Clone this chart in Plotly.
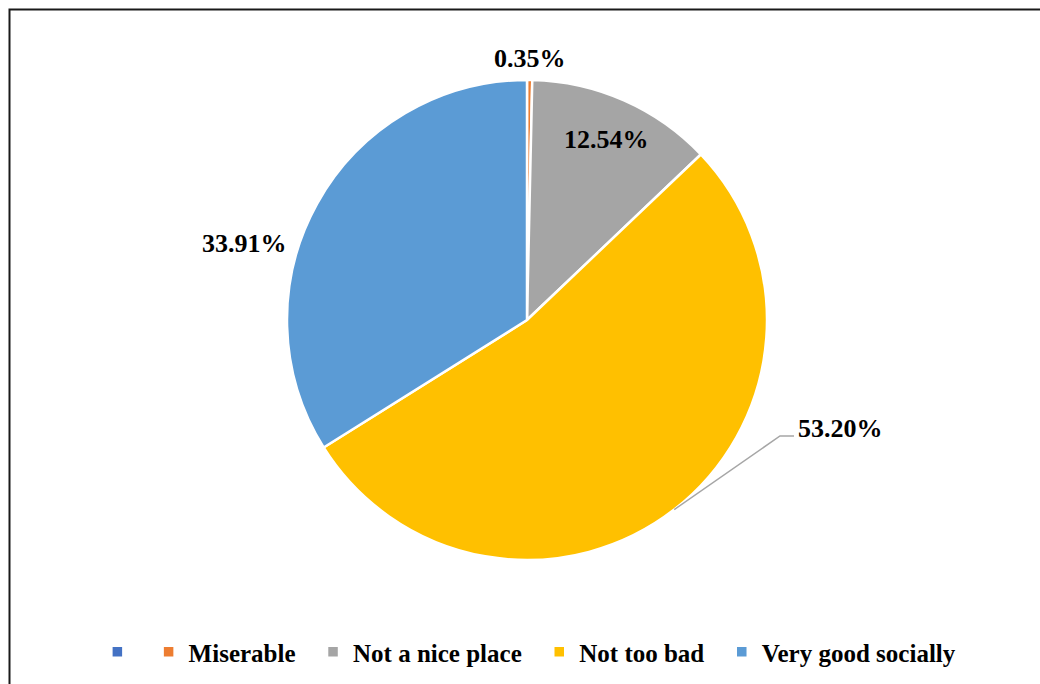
import math
import plotly.graph_objects as go

# Survey responses: share of respondents per category (percent)
categories = [" ", "Miserable", "Not a nice place", "Not too bad", "Very good socially"]
shares = [0.0, 0.35, 12.54, 53.20, 33.91]
colors = ["#4472C4", "#ED7D31", "#A5A5A5", "#FFC000", "#5B9BD5"]

W, H = 1040, 684
CX, CY, R = 527, 320, 240   # pie centre and radius in pixels
FONT = "Liberation Serif"


def px(x):
    return x / W


def py(y):
    return 1 - y / H


def mid_angle(i):
    """Clockwise angle from 12 o'clock (radians) to the middle of slice i."""
    total = sum(shares)
    start = sum(shares[:i])
    return 2 * math.pi * (start + shares[i] / 2) / total


def legend_label(i, name):
    # bold names, with a little extra breathing room between legend entries
    pad = "&nbsp;&nbsp;" if 0 < i < len(categories) - 1 else ""
    return f"<b>{name}</b>{pad}"


fig = go.Figure(
    go.Pie(
        labels=[legend_label(i, c) for i, c in enumerate(categories)],
        values=shares,
        sort=False,
        direction="clockwise",
        rotation=0,
        marker=dict(colors=colors, line=dict(color="white", width=2.5)),
        textinfo="none",
        hoverinfo="label+percent",
        domain=dict(x=[px(CX - R), px(CX + R)], y=[py(CY + R), py(CY - R)]),
    )
)

label_font = dict(family=FONT, size=26, color="black")
annotations = []

# Miserable: just outside the rim, above its sliver
a = mid_angle(1)
annotations.append(dict(x=px(CX + (R + 22) * math.sin(a)), y=py(CY - (R + 22) * math.cos(a)),
                        text=f"<b>{shares[1]:.2f}%</b>"))
# Not a nice place: inside the slice
a = mid_angle(2)
annotations.append(dict(x=px(CX + 0.82 * R * math.sin(a)), y=py(CY - 0.82 * R * math.cos(a)),
                        text=f"<b>{shares[2]:.2f}%</b>"))
# Very good socially: to the left of the pie
annotations.append(dict(x=px(289), y=py(244), xanchor="right", text=f"<b>{shares[4]:.2f}%</b>"))
# Not too bad: callout with leader line
annotations.append(dict(x=px(796), y=py(428), xanchor="left", text=f"<b>{shares[3]:.2f}%</b>"))

for ann in annotations:
    ann.update(xref="paper", yref="paper", showarrow=False, font=label_font)
    ann.setdefault("xanchor", "center")
    ann.setdefault("yanchor", "middle")

a = mid_angle(3)
ex, ey = CX + R * math.sin(a), CY - R * math.cos(a)
leader = dict(
    type="path", xref="paper", yref="paper",
    path=f"M{px(ex)},{py(ey)} L{px(780)},{py(436)} L{px(794)},{py(436)}",
    line=dict(color="#A6A6A6", width=1.5),
)
frame = dict(
    type="rect", xref="paper", yref="paper",
    x0=px(9.5), x1=1.05, y0=-0.05, y1=py(9.5),
    line=dict(color="#1A1A1A", width=2),
)

fig.update_layout(
    width=W, height=H,
    margin=dict(l=0, r=0, t=0, b=0),
    paper_bgcolor="white",
    plot_bgcolor="white",
    annotations=annotations,
    shapes=[leader, frame],
    showlegend=True,
    legend=dict(
        orientation="h",
        x=0.509, y=py(652), xanchor="center", yanchor="middle",
        font=dict(family=FONT, size=25, color="black"),
        traceorder="normal",
        itemclick=False,
    ),
)

fig.write_html("out.html")
